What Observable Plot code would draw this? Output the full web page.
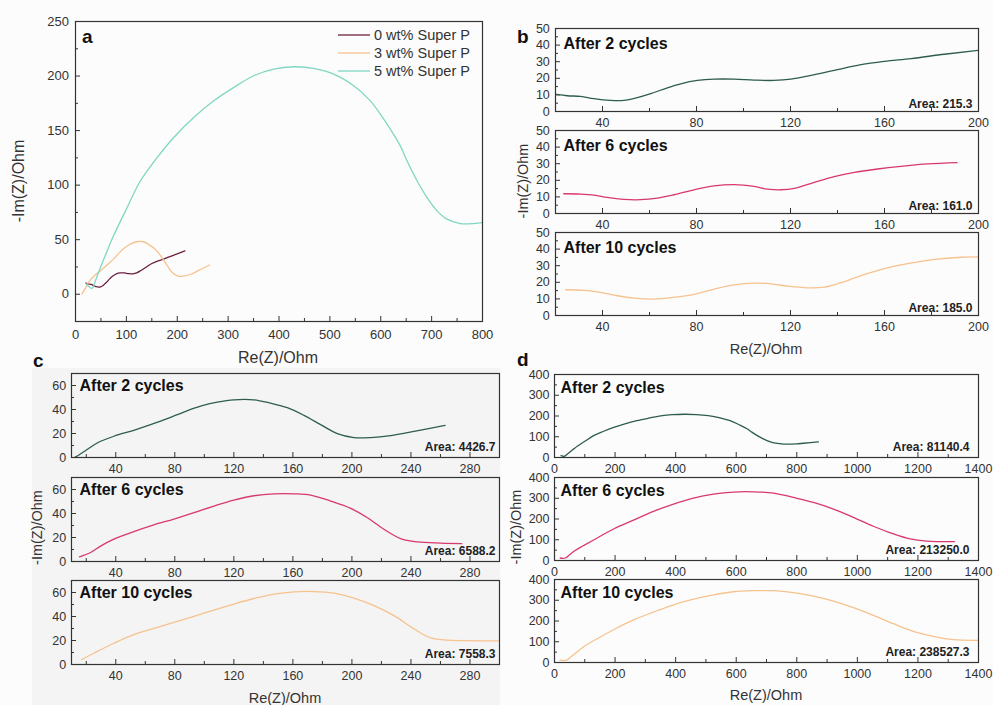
<!DOCTYPE html>
<html>
<head>
<meta charset="utf-8">
<script src="https://cdn.jsdelivr.net/npm/d3@7"></script>
<script src="https://cdn.jsdelivr.net/npm/@observablehq/plot@0.6"></script>
<style>
  html, body { margin: 0; padding: 0; background: #fcfcfc; }
  #fig { position: relative; width: 993px; height: 705px; overflow: hidden;
         font-family: "Liberation Sans", Arial, sans-serif; }
  .shade { position: absolute; background: #f4f4f4; }
</style>
</head>
<body>
<div id="fig"></div>
<script>
// Nyquist points, [Re(Z), -Im(Z)] in Ohm, for each Super P loading and cycle count
const superP0_cycle2 = [[20.4,10.3],[25,9.5],[30.7,9.1],[36.3,7.7],[43.4,6.65],[49.1,6.65],[54.8,8.3],[60.5,10.7],[67.6,14.3],[73.3,16.7],[80.4,18.7],[87.5,19.5],[96,19.5],[104.5,18.9],[113,18.7],[120.2,19.5],[128.7,21.8],[138.6,24.8],[150,28.2],[160,30.2],[171.3,31.9],[185.5,34.5],[200,36.9],[215,39.7]];
const superP0_cycle6 = [[23.5,11.9],[30.7,11.7],[36.4,11.1],[42,9.7],[49.1,8.5],[56.2,8.3],[63.4,9.3],[70.4,11.3],[79,14.3],[87.5,16.6],[96,17.4],[104.5,16.3],[110.2,14.7],[115.9,14.3],[121.6,15.1],[130.1,18.7],[138.6,22.2],[147.2,24.8],[157.1,26.8],[167,28.4],[178.4,29.9],[190.9,30.7]];
const superP0_cycle10 = [[24.3,15.5],[32.1,15.1],[39.2,13.9],[46.3,11.9],[53.4,10.5],[61.9,9.9],[70.4,10.9],[79,12.7],[87.5,15.9],[96,18.5],[104.5,19.5],[111.6,19.1],[118.8,17.7],[127.3,16.7],[134.4,17.1],[141.5,19.8],[150,24],[160,28.2],[169.9,31.2],[181.3,33.8],[192.6,35.1],[200,35.3]];

const superP3_cycle2 = [[12.5,0.3],[13.9,1.3],[20.6,6.6],[27.4,12.1],[38.7,17.7],[52.2,22.7],[63.6,27.4],[74.9,32.4],[86.1,37.9],[97.5,42.8],[108.8,46.1],[120,48.1],[133.6,48.1],[144.9,45.3],[156.2,41.5],[167.5,35.1],[178.8,27.4],[190.1,19.9],[201.4,16.6],[212.7,16.6],[226.3,18.3],[242.1,21.8],[263.1,26.8]];
const superP3_cycle6 = [[15.4,3.9],[22.9,7.5],[29.7,12.8],[38.7,18.6],[52.2,24.9],[65.8,30.5],[79.4,35.4],[92.9,40.7],[106.5,46.2],[120,51.2],[133.6,54.8],[147.2,56.4],[160.7,56.4],[172,55.4],[185.6,50.4],[199.2,44.3],[210.5,36.5],[221.7,26.9],[233,19.1],[244.4,16.3],[260.2,15.3],[274.4,14.9]];
const superP3_cycle10 = [[16.8,4.1],[25.1,9.4],[38.7,17.7],[52.2,24.9],[65.8,30.1],[79.4,35.1],[92.9,40.1],[106.5,45.4],[120,50.4],[133.6,55],[147.2,58.7],[160.7,60.6],[174.3,60.8],[187.8,59.5],[201.4,55.4],[215,49],[228.5,40.7],[242.1,29.6],[253.4,22.1],[262.4,20.5],[278.3,19.9],[300,19.7]];

const superP5_cycle2 = [[21.6,9.2],[32.8,5.5],[40,13.5],[49,24.4],[62,39.5],[75.2,54],[101.5,79.5],[127.7,104],[160.5,125.3],[193.1,143.7],[232.4,162],[271.7,177.3],[311,189.5],[350.3,200.3],[389.6,206.4],[428.9,208.5],[468.2,207],[507.5,201.8],[546.8,191.1],[579.6,177.3],[612.4,156],[638.5,136],[651.6,122.3],[671.3,104],[691,88.6],[710.6,76.4],[730.3,68.8],[756.5,64.8],[782.7,64.8],[799,65.7],[822,68.6],[871.6,75]];
const superP5_cycle6 = [[18.8,12],[36,12],[50,28],[68,48],[95,71],[129,99],[195,152],[261,195],[327,237],[393,272],[459,301],[525,320],[591,330],[657,331],[723,325],[789,304],[855,280],[921,248],[987,208],[1053,165],[1119,128],[1174,104],[1229,93],[1273,91],[1321,91]];
const superP5_cycle10 = [[18.8,11],[40,11],[52,25],[68,43],[95,75],[129,105],[195,158],[261,205],[327,243],[393,278],[459,305],[525,326],[591,341],[657,346],[723,346],[789,337],[855,320],[921,296],[987,264],[1053,227],[1119,187],[1185,150],[1251,126],[1317,110],[1400,107]];

// Labels
const loadings = ["0 wt% Super P", "3 wt% Super P", "5 wt% Super P"];
const cycleLabels = ["After 2 cycles", "After 6 cycles", "After 10 cycles"];
const areas0 = ["215.3", "161.0", "185.0"];
const areas3 = ["4426.7", "6588.2", "7558.3"];
const areas5 = ["81140.4", "213250.0", "238527.3"];

// Tick values
const ticksA = {x: [0,100,200,300,400,500,600,700,800], xMinor: [50,150,250,350,450,550,650,750],
                y: [0,50,100,150,200,250], yMinor: [-25,25,75,125,175,225]};
const ticksB = {x: [40,80,120,160,200], xMinor: [60,100,140,180],
                y: [0,10,20,30,40,50], yMinor: [5,15,25,35,45]};
const ticksC = {x: [40,80,120,160,200,240,280], xMinor: [20,60,100,140,180,220,260],
                y: [0,20,40,60], yMinor: [10,30,50]};
const ticksD = {x: [0,200,400,600,800,1000,1200,1400], xMinor: [100,300,500,700,900,1100,1300],
                y: [0,100,200,300,400], yMinor: [50,150,250,350]};

// Colours
const loadingColors = ["#6c2142", "#f6c28e", "#7fd7c2"];
const cycleColors = ["#2e5d50", "#d8396c", "#f6c28e"];

const fig = document.getElementById("fig");
const ink = "#333";
const fmt = d => `${d}`;

// grey backdrop behind panel c
const shade = document.createElement("div");
shade.className = "shade";
Object.assign(shade.style, {left: "32px", top: "368px", width: "468px", height: "337px"});
fig.append(shade);

function nyquist({left, top, width, height, xDomain, yDomain, ticks, lines, tag, area,
                  tickFont = 12.5, xPad = 12, yPad = 10.5,
                  tagDx = 8, tagDy = 20, areaDx = -6, areaDy = -4}) {
  const ml = 46, mr = 14, mt = 6, mb = 26;
  const marks = [
    Plot.axisX(ticks.xMinor, {tickSize: -3, fill: "none", stroke: ink}),
    Plot.axisY(ticks.yMinor, {tickSize: -3, fill: "none", stroke: ink}),
    Plot.axisX(ticks.x, {tickSize: -5, tickPadding: xPad, tickFormat: fmt, fontSize: tickFont,
                         color: ink, label: null}),
    Plot.axisY(ticks.y, {tickSize: -5, tickPadding: yPad, tickFormat: fmt, fontSize: tickFont,
                         color: ink, label: null}),
    ...lines.map(({points, color}) =>
      Plot.line(points, {stroke: color, strokeWidth: 1.3, curve: "catmull-rom", clip: true})),
    Plot.frame({stroke: ink, strokeWidth: 1.2})
  ];
  if (tag) marks.push(Plot.text([tag], {text: d => d, frameAnchor: "top-left", textAnchor: "start",
    lineAnchor: "bottom", dx: tagDx, dy: tagDy, fontSize: 16, fontWeight: "bold", fill: "#111"}));
  if (area) marks.push(Plot.text([`Area: ${area}`], {text: d => d, frameAnchor: "bottom-right",
    textAnchor: "end", lineAnchor: "bottom", dx: areaDx, dy: areaDy, fontSize: 12,
    fontWeight: "bold", fill: "#222"}));
  const svg = Plot.plot({
    width: ml + width + mr, height: mt + height + mb,
    marginLeft: ml, marginRight: mr, marginTop: mt, marginBottom: mb,
    x: {domain: xDomain, label: null},
    y: {domain: yDomain, label: null},
    style: {position: "absolute", left: `${left - ml}px`, top: `${top - mt}px`,
            background: "transparent", overflow: "visible",
            fontFamily: "'Liberation Sans', Arial, sans-serif", color: ink},
    marks
  });
  fig.append(svg);
}

// (a) second-cycle spectra for the three loadings
nyquist({
  left: 75, top: 21, width: 407, height: 300,
  xDomain: [0, 800], yDomain: [-25, 250], ticks: ticksA, tickFont: 13, xPad: 13, yPad: 11.5,
  lines: [superP0_cycle2, superP3_cycle2, superP5_cycle2].map((points, i) => ({points, color: loadingColors[i]}))
});

// (b), (c), (d) stacked cycle panels
const stacks = [
  {left: 555, width: 423, tops: [28, 130, 232], height: 83, xDomain: [20, 200], yDomain: [0, 50],
   ticks: ticksB, series: [superP0_cycle2, superP0_cycle6, superP0_cycle10], areas: areas0,
   xPad: 12, yPad: 10.7, tagDx: 8, tagDy: 20, areaDx: -6, areaDy: -4},
  {left: 71, width: 428, tops: [373, 477, 580], height: 84, xDomain: [10, 300], yDomain: [0, 70],
   ticks: ticksC, series: [superP3_cycle2, superP3_cycle6, superP3_cycle10], areas: areas3,
   xPad: 11.5, yPad: 10.3, tagDx: 8, tagDy: 17, areaDx: -4, areaDy: -7},
  {left: 554, width: 424, tops: [374, 477, 579], height: 83, xDomain: [0, 1400], yDomain: [0, 400],
   ticks: ticksD, series: [superP5_cycle2, superP5_cycle6, superP5_cycle10], areas: areas5,
   xPad: 11.5, yPad: 10, tagDx: 6, tagDy: 18.5, areaDx: -9, areaDy: -6.5}
];
for (const s of stacks) {
  s.tops.forEach((top, i) => nyquist({
    left: s.left, top, width: s.width, height: s.height,
    xDomain: s.xDomain, yDomain: s.yDomain, ticks: s.ticks,
    lines: [{points: s.series[i], color: cycleColors[i]}],
    tag: cycleLabels[i], area: s.areas[i],
    xPad: s.xPad, yPad: s.yPad, tagDx: s.tagDx, tagDy: s.tagDy, areaDx: s.areaDx, areaDy: s.areaDy
  }));
}

// Panel letters, axis titles and the legend of panel a
const over = d3.create("svg")
  .attr("width", 993).attr("height", 705)
  .style("position", "absolute").style("left", 0).style("top", 0)
  .style("font-family", "'Liberation Sans', Arial, sans-serif")
  .style("pointer-events", "none");

[["a", 82, 43], ["b", 517, 43], ["c", 33, 367], ["d", 517, 366]].forEach(([t, x, y]) =>
  over.append("text").attr("x", x).attr("y", y).attr("font-size", 19).attr("font-weight", "bold")
    .attr("fill", "#111").text(t));

const xTitles = [[278, 357.5, 16], [766, 348.7, 14.5], [285, 697.5, 14.5], [766, 695.3, 14.5]];
xTitles.forEach(([x, y, fs]) =>
  over.append("text").attr("x", x).attr("y", y).attr("dy", "0.35em").attr("text-anchor", "middle")
    .attr("font-size", fs).attr("fill", "#333").text("Re(Z)/Ohm"));

const yTitles = [[18, 181, 16], [523, 181, 14.5], [37, 527.5, 14.5], [515.5, 527, 14.5]];
yTitles.forEach(([x, y, fs]) =>
  over.append("text").attr("transform", `translate(${x},${y}) rotate(-90)`).attr("dy", "0.35em")
    .attr("text-anchor", "middle").attr("font-size", fs).attr("fill", "#333").text("-Im(Z)/Ohm"));

const legend = over.append("g").attr("transform", "translate(338,35)");
loadings.forEach((name, i) => {
  const row = legend.append("g").attr("transform", `translate(0,${i * 18})`);
  row.append("line").attr("x1", 0).attr("x2", 32).attr("stroke", loadingColors[i]).attr("stroke-width", 1.3);
  row.append("text").attr("x", 36).attr("dy", "0.35em").attr("font-size", 14.5).attr("fill", "#333").text(name);
});

fig.append(over.node());
</script>
</body>
</html>
